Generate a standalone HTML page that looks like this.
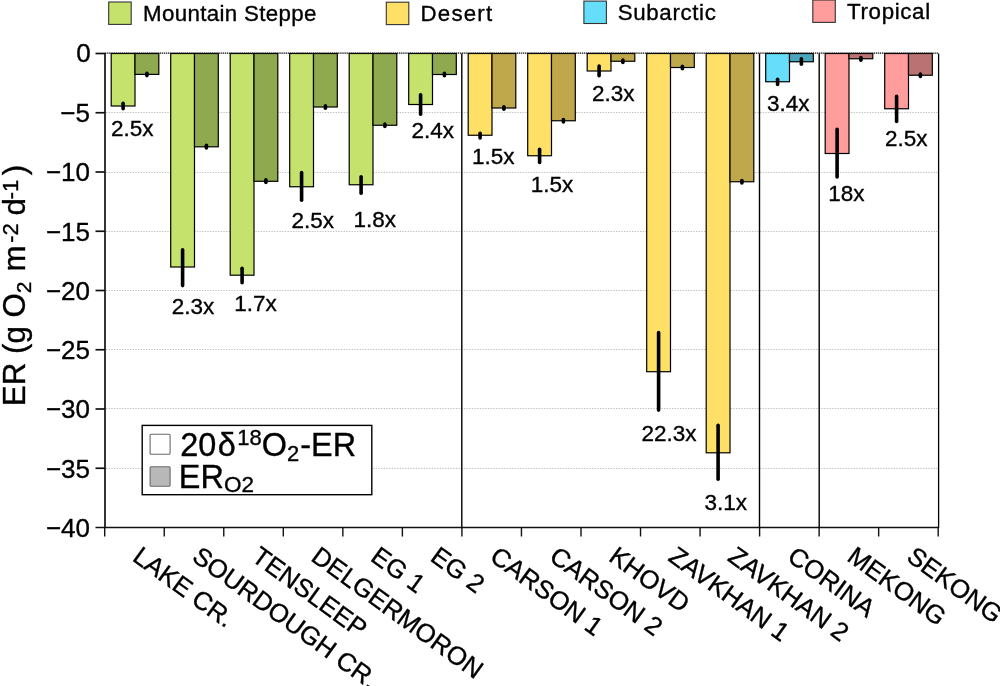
<!DOCTYPE html>
<html lang="en">
<head>
<meta charset="utf-8">
<title>ER by biome</title>
<style>
html,body{margin:0;padding:0;background:#fff;}
body{width:1000px;height:686px;overflow:hidden;}
svg{display:block;font-family:"Liberation Sans",sans-serif;fill:#000;}
text{stroke:#000;stroke-width:0.35px;}
.tick{font-size:26px;text-anchor:end;}
.ann{font-size:22.5px;}
.leg{font-size:22.3px;letter-spacing:0.35px;}
.xl{font-size:25.7px;}
.ytitle{font-size:31.3px;}
.ileg{font-size:32.4px;}
.grid line{stroke:#bebebe;stroke-width:1;stroke-dasharray:1.3 1.37;}
.ax line{stroke:#111;stroke-width:1.7;}
.bar rect{stroke:#000;stroke-width:1.2;}
.err line{stroke:#000;stroke-width:3.6;stroke-linecap:round;}
</style>
</head>
<body>
<svg width="1000" height="686" viewBox="0 0 1000 686">
<rect width="1000" height="686" fill="#fff"/>

<g class="grid">
<line x1="106.0" y1="112.50" x2="938.0" y2="112.50"/>
<line x1="106.0" y1="172.50" x2="938.0" y2="172.50"/>
<line x1="106.0" y1="231.50" x2="938.0" y2="231.50"/>
<line x1="106.0" y1="290.50" x2="938.0" y2="290.50"/>
<line x1="106.0" y1="349.50" x2="938.0" y2="349.50"/>
<line x1="106.0" y1="408.50" x2="938.0" y2="408.50"/>
<line x1="106.0" y1="468.50" x2="938.0" y2="468.50"/>
</g>
<g class="bar">
<rect x="111.20" y="53.50" width="23.80" height="52.50" fill="#c5e36c"/>
<rect x="135.00" y="53.50" width="23.80" height="20.90" fill="#8fa94f"/>
<rect x="170.70" y="53.50" width="23.80" height="213.50" fill="#c5e36c"/>
<rect x="194.50" y="53.50" width="23.80" height="93.30" fill="#8fa94f"/>
<rect x="230.20" y="53.50" width="23.80" height="221.70" fill="#c5e36c"/>
<rect x="254.00" y="53.50" width="23.80" height="127.80" fill="#8fa94f"/>
<rect x="289.70" y="53.50" width="23.80" height="133.25" fill="#c5e36c"/>
<rect x="313.50" y="53.50" width="23.80" height="53.50" fill="#8fa94f"/>
<rect x="349.20" y="53.50" width="23.80" height="131.25" fill="#c5e36c"/>
<rect x="373.00" y="53.50" width="23.80" height="71.75" fill="#8fa94f"/>
<rect x="408.70" y="53.50" width="23.80" height="51.00" fill="#c5e36c"/>
<rect x="432.50" y="53.50" width="23.80" height="21.00" fill="#8fa94f"/>
<rect x="468.20" y="53.50" width="23.80" height="81.75" fill="#ffe066"/>
<rect x="492.00" y="53.50" width="23.80" height="54.50" fill="#bfa84c"/>
<rect x="527.70" y="53.50" width="23.80" height="102.25" fill="#ffe066"/>
<rect x="551.50" y="53.50" width="23.80" height="67.25" fill="#bfa84c"/>
<rect x="587.20" y="53.50" width="23.80" height="17.50" fill="#ffe066"/>
<rect x="611.00" y="53.50" width="23.80" height="7.75" fill="#bfa84c"/>
<rect x="646.70" y="53.50" width="23.80" height="318.20" fill="#ffe066"/>
<rect x="670.50" y="53.50" width="23.80" height="14.00" fill="#bfa84c"/>
<rect x="706.20" y="53.50" width="23.80" height="399.30" fill="#ffe066"/>
<rect x="730.00" y="53.50" width="23.80" height="128.25" fill="#bfa84c"/>
<rect x="765.70" y="53.50" width="23.80" height="28.25" fill="#66defb"/>
<rect x="789.50" y="53.50" width="23.80" height="8.25" fill="#4ba5bc"/>
<rect x="825.20" y="53.50" width="23.80" height="100.00" fill="#ff9c9c"/>
<rect x="849.00" y="53.50" width="23.80" height="5.25" fill="#bb7272"/>
<rect x="884.70" y="53.50" width="23.80" height="55.25" fill="#ff9c9c"/>
<rect x="908.50" y="53.50" width="23.80" height="21.75" fill="#bb7272"/>
</g>
<g class="err">
<line x1="123.10" y1="103.30" x2="123.10" y2="108.70"/>
<line x1="146.90" y1="73.20" x2="146.90" y2="75.60"/>
<line x1="182.60" y1="249.80" x2="182.60" y2="285.60"/>
<line x1="206.40" y1="145.30" x2="206.40" y2="148.00"/>
<line x1="242.10" y1="268.20" x2="242.10" y2="282.70"/>
<line x1="265.90" y1="179.80" x2="265.90" y2="182.50"/>
<line x1="301.60" y1="172.55" x2="301.60" y2="200.20"/>
<line x1="325.40" y1="105.80" x2="325.40" y2="108.20"/>
<line x1="361.10" y1="176.80" x2="361.10" y2="193.20"/>
<line x1="384.90" y1="124.05" x2="384.90" y2="126.45"/>
<line x1="420.60" y1="94.80" x2="420.60" y2="114.20"/>
<line x1="444.40" y1="73.30" x2="444.40" y2="75.70"/>
<line x1="480.10" y1="133.30" x2="480.10" y2="138.00"/>
<line x1="503.90" y1="106.80" x2="503.90" y2="109.20"/>
<line x1="539.60" y1="149.30" x2="539.60" y2="162.45"/>
<line x1="563.40" y1="119.55" x2="563.40" y2="121.95"/>
<line x1="599.10" y1="66.05" x2="599.10" y2="75.70"/>
<line x1="622.90" y1="60.05" x2="622.90" y2="62.45"/>
<line x1="658.60" y1="332.60" x2="658.60" y2="410.10"/>
<line x1="682.40" y1="66.30" x2="682.40" y2="68.70"/>
<line x1="718.10" y1="425.20" x2="718.10" y2="479.30"/>
<line x1="741.90" y1="180.55" x2="741.90" y2="182.95"/>
<line x1="777.60" y1="79.30" x2="777.60" y2="84.45"/>
<line x1="801.40" y1="58.80" x2="801.40" y2="64.20"/>
<line x1="837.10" y1="129.30" x2="837.10" y2="176.95"/>
<line x1="860.90" y1="57.55" x2="860.90" y2="60.20"/>
<line x1="896.60" y1="96.30" x2="896.60" y2="121.45"/>
<line x1="920.40" y1="74.05" x2="920.40" y2="76.45"/>
</g>
<line x1="105.0" y1="53.2" x2="938.6" y2="53.2" stroke="#111" stroke-width="1.2" stroke-dasharray="1.4 0.7"/>
<g class="ax">
<line x1="105.0" y1="53.0" x2="105.0" y2="527.5"/>
<line x1="95.5" y1="527.5" x2="939.1" y2="527.5"/>
<line x1="938.6" y1="53.5" x2="938.6" y2="527.5" style="stroke-width:1.3;stroke:#000"/>
<line x1="95.5" y1="53.50" x2="105.0" y2="53.50"/>
<line x1="95.5" y1="112.75" x2="105.0" y2="112.75"/>
<line x1="95.5" y1="172.00" x2="105.0" y2="172.00"/>
<line x1="95.5" y1="231.25" x2="105.0" y2="231.25"/>
<line x1="95.5" y1="290.50" x2="105.0" y2="290.50"/>
<line x1="95.5" y1="349.75" x2="105.0" y2="349.75"/>
<line x1="95.5" y1="409.00" x2="105.0" y2="409.00"/>
<line x1="95.5" y1="468.25" x2="105.0" y2="468.25"/>
<line x1="104.70" y1="527.5" x2="104.70" y2="536.5" style="stroke-width:1.4"/>
<line x1="164.24" y1="527.5" x2="164.24" y2="536.5" style="stroke-width:1.4"/>
<line x1="223.77" y1="527.5" x2="223.77" y2="536.5" style="stroke-width:1.4"/>
<line x1="283.31" y1="527.5" x2="283.31" y2="536.5" style="stroke-width:1.4"/>
<line x1="342.84" y1="527.5" x2="342.84" y2="536.5" style="stroke-width:1.4"/>
<line x1="402.38" y1="527.5" x2="402.38" y2="536.5" style="stroke-width:1.4"/>
<line x1="461.91" y1="527.5" x2="461.91" y2="536.5" style="stroke-width:1.4"/>
<line x1="521.45" y1="527.5" x2="521.45" y2="536.5" style="stroke-width:1.4"/>
<line x1="580.99" y1="527.5" x2="580.99" y2="536.5" style="stroke-width:1.4"/>
<line x1="640.52" y1="527.5" x2="640.52" y2="536.5" style="stroke-width:1.4"/>
<line x1="700.06" y1="527.5" x2="700.06" y2="536.5" style="stroke-width:1.4"/>
<line x1="759.59" y1="527.5" x2="759.59" y2="536.5" style="stroke-width:1.4"/>
<line x1="819.13" y1="527.5" x2="819.13" y2="536.5" style="stroke-width:1.4"/>
<line x1="878.66" y1="527.5" x2="878.66" y2="536.5" style="stroke-width:1.4"/>
<line x1="938.20" y1="527.5" x2="938.20" y2="536.5" style="stroke-width:1.4"/>
<line x1="461.80" y1="53.5" x2="461.80" y2="527.5" style="stroke-width:1.4;stroke:#000"/>
<line x1="759.50" y1="53.5" x2="759.50" y2="527.5" style="stroke-width:1.4;stroke:#000"/>
<line x1="819.20" y1="53.5" x2="819.20" y2="527.5" style="stroke-width:1.4;stroke:#000"/>
</g>
<g class="tick">
<text x="90.8" y="62.00">0</text>
<text x="90.0" y="122.05">−5</text>
<text x="90.0" y="181.30">−10</text>
<text x="90.0" y="240.55">−15</text>
<text x="90.0" y="299.80">−20</text>
<text x="90.0" y="359.05">−25</text>
<text x="90.0" y="418.30">−30</text>
<text x="90.0" y="477.55">−35</text>
<text x="90.0" y="536.80">−40</text>
</g>
<g class="ann">
<text x="111.00" y="135.60">2.5x</text>
<text x="171.80" y="313.60">2.3x</text>
<text x="234.20" y="310.60">1.7x</text>
<text x="291.50" y="227.60">2.5x</text>
<text x="353.50" y="226.60">1.8x</text>
<text x="411.50" y="137.60">2.4x</text>
<text x="472.00" y="163.85">1.5x</text>
<text x="530.75" y="191.85">1.5x</text>
<text x="592.00" y="101.35">2.3x</text>
<text x="641.50" y="440.60">22.3x</text>
<text x="704.50" y="509.60">3.1x</text>
<text x="767.00" y="110.60">3.4x</text>
<text x="828.25" y="201.35">18x</text>
<text x="885.00" y="145.60">2.5x</text>
</g>
<g class="xl">
<text transform="translate(131.20 559.70) rotate(36)">LAKE CR.</text>
<text transform="translate(190.74 559.70) rotate(36)">SOURDOUGH CR.</text>
<text transform="translate(250.27 559.70) rotate(36)">TENSLEEP</text>
<text transform="translate(309.81 559.70) rotate(36)">DELGERMORON</text>
<text transform="translate(369.34 559.70) rotate(36)">EG 1</text>
<text transform="translate(428.88 559.70) rotate(36)">EG 2</text>
<text transform="translate(488.41 559.70) rotate(36)">CARSON 1</text>
<text transform="translate(547.95 559.70) rotate(36)">CARSON 2</text>
<text transform="translate(607.49 559.70) rotate(36)">KHOVD</text>
<text transform="translate(667.02 559.70) rotate(36)">ZAVKHAN 1</text>
<text transform="translate(726.56 559.70) rotate(36)">ZAVKHAN 2</text>
<text transform="translate(786.09 559.70) rotate(36)">CORINA</text>
<text transform="translate(845.63 559.70) rotate(36)">MEKONG</text>
<text transform="translate(905.16 559.70) rotate(36)">SEKONG</text>
</g>
<text class="ytitle" transform="translate(25 406.2) rotate(-90)">ER (g O<tspan font-size="21" dy="5.6">2</tspan><tspan dy="-5.6" dx="1.3"> m</tspan><tspan font-size="22" dy="-7.5" dx="2.6">-2</tspan><tspan dy="7.5" dx="-0.9"> d</tspan><tspan font-size="22" dy="-7.5" dx="-1.3">-1</tspan><tspan dy="7.5" dx="4.4">)</tspan></text>
<g class="leg">
<rect x="108.7" y="2.0" width="22.5" height="22.4" fill="#c5e36c" stroke="#333" stroke-width="1.1"/>
<text x="143.0" y="20.7" style="letter-spacing:0.35px">Mountain Steppe</text>
<rect x="386.3" y="2.2" width="22.5" height="22.4" fill="#ffe066" stroke="#333" stroke-width="1.1"/>
<text x="420.5" y="21.0" style="letter-spacing:1.20px">Desert</text>
<rect x="583.9" y="1.1" width="22.5" height="22.4" fill="#66defb" stroke="#333" stroke-width="1.1"/>
<text x="617.8" y="19.7" style="letter-spacing:0.63px">Subarctic</text>
<rect x="812.8" y="0.0" width="22.5" height="22.4" fill="#ff9c9c" stroke="#333" stroke-width="1.1"/>
<text x="847.1" y="19.2" style="letter-spacing:0.65px">Tropical</text>
</g>
<rect x="142.2" y="425.4" width="229.6" height="69.3" fill="#fff" stroke="#000" stroke-width="1.4"/>
<rect x="150.1" y="434.2" width="20" height="20" rx="1" fill="#fff" stroke="#6a6a6a" stroke-width="1.1"/>
<rect x="150.1" y="466.7" width="20" height="19.6" rx="1" fill="#b8b8b8" stroke="#6a6a6a" stroke-width="1.1"/>
<g class="ileg">
<text x="180.3" y="455.5">20<tspan dx="1.5">δ</tspan><tspan font-size="22" dy="-10.5" dx="1.5">18</tspan><tspan dy="10.5">O</tspan><tspan font-size="22" dy="5">2</tspan><tspan dy="-5" dx="1">-ER</tspan></text>
<text x="178.8" y="487.6">ER<tspan font-size="22.5" dy="4.5" dx="0.3">O2</tspan></text>
</g>
</svg>
</body>
</html>
